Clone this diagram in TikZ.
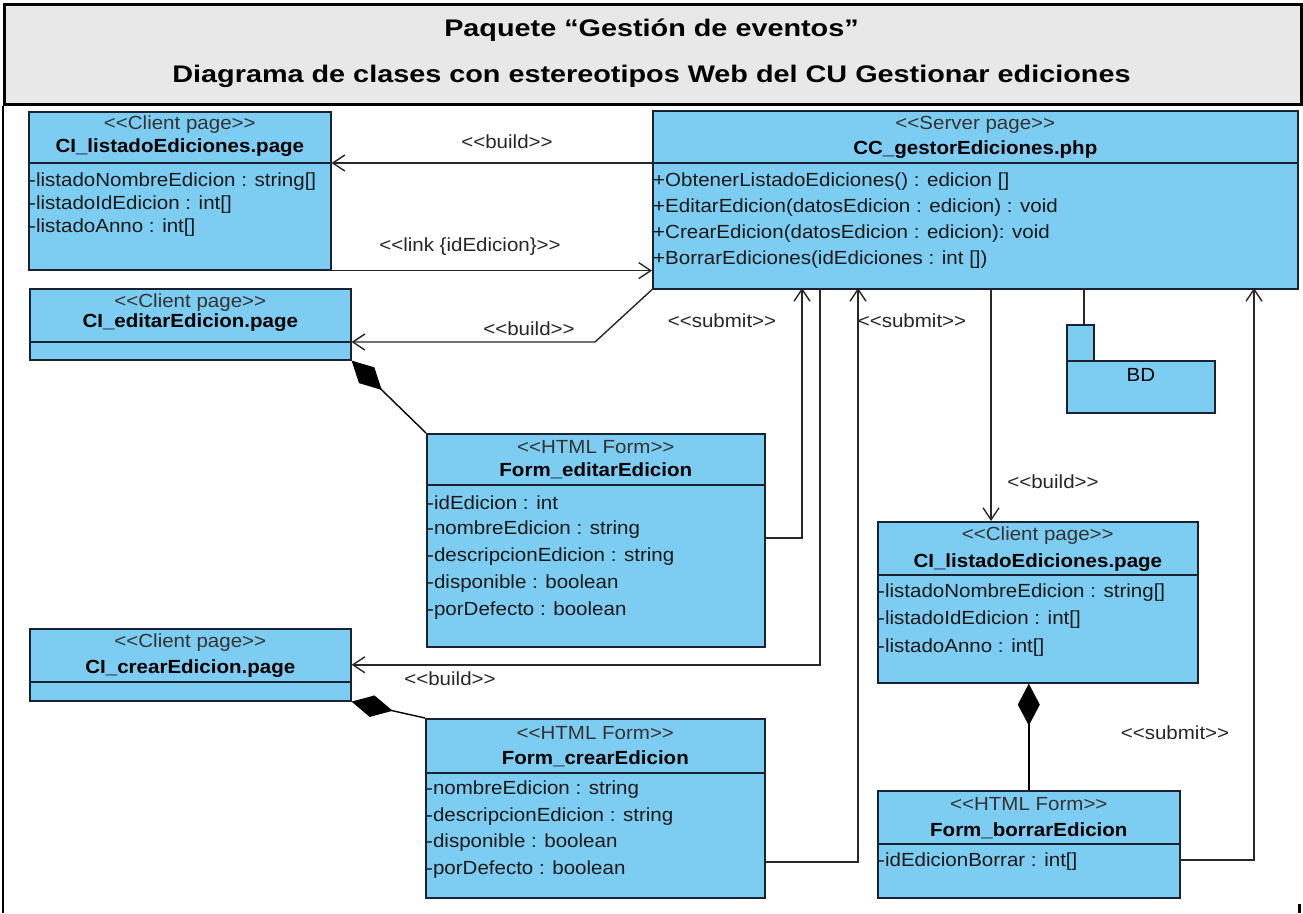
\documentclass[tikz,border=0pt]{standalone}
\usepackage{fontspec}
\setmainfont{Liberation Sans}[Ligatures=TeXOff, FakeStretch=1.08]
\newfontfamily\headfont{Liberation Sans}[Ligatures=TeXOff, FakeStretch=1.2]
\usetikzlibrary{arrows.meta}

\definecolor{classfill}{RGB}{125,205,243}
\definecolor{classline}{RGB}{25,35,50}
\definecolor{headfill}{RGB}{232,232,232}
\definecolor{wire}{RGB}{40,40,40}

\tikzset{
  classbox/.style={draw=classline, fill=classfill, line width=1.6pt, inner sep=0pt, anchor=north west},
  divider/.style={draw=classline, line width=1.6pt},
  stereo/.style={font=\fontsize{19}{22}\selectfont, inner sep=0pt, text=black!80},
  cname/.style={font=\fontsize{19}{22}\selectfont\bfseries, inner sep=0pt},
  attr/.style={font=\fontsize{19}{22}\selectfont, inner sep=0pt, anchor=west, text=black!90},
  lbl/.style={font=\fontsize{19}{22}\selectfont, inner sep=0pt, text=black!85},
  dep/.style={draw=wire, line width=1.4pt, -{Straight Barb[length=12pt,width=16pt]}},
  comp/.style={draw=black, line width=1.4pt, -{Diamond[length=42pt,width=22pt,fill=black]}},
  plainwire/.style={draw=wire, line width=1.4pt},
  title/.style={font=\headfont\fontsize{24}{28}\selectfont\bfseries, inner sep=0pt},
}

\begin{document}
\begin{tikzpicture}[x=1pt,y=-1pt]
\useasboundingbox (0,0) rectangle (1303,913);

% ---------- frame and heading ----------
\node[draw=black, line width=2.5pt, fill=headfill, minimum width=1297pt, minimum height=100pt,
      anchor=north west, inner sep=0pt] (head) at (3,3) {};
\node[title] (t1) at (651.5,30) {Paquete “Gestión de eventos”};
\node[title] (t2) at (651.5,76) {Diagrama de clases con estereotipos Web del CU Gestionar ediciones};
\coordinate (frameBL) at (3,913);
\draw[line width=2.5pt] (head.south west) -- (frameBL);
\coordinate (tickA) at (1299,904);
\coordinate (tickB) at (1299,913);
\draw[line width=3pt] (tickA) -- (tickB);

% ---------- server page ----------
\node[classbox, minimum width=645pt, minimum height=178pt] (S) at (652,110) {};
\draw[divider] ([yshift=-53pt]S.north west) -- ([yshift=-53pt]S.north east);
\node[stereo] (Sst) at ([yshift=-15pt]S.north) {<<Server page>>};
\node[cname] (Snm) at ([yshift=-40pt]S.north) {CC\_gestorEdiciones.php};
\node[attr] (Sm1) at ([xshift=1pt,yshift=-72pt]S.north west) {+ObtenerListadoEdiciones() : edicion []};
\node[attr] (Sm2) at ([xshift=1pt,yshift=-98pt]S.north west) {+EditarEdicion(datosEdicion : edicion) : void};
\node[attr] (Sm3) at ([xshift=1pt,yshift=-124pt]S.north west) {+CrearEdicion(datosEdicion : edicion): void};
\node[attr] (Sm4) at ([xshift=1pt,yshift=-150pt]S.north west) {+BorrarEdiciones(idEdiciones : int [])};

% ---------- CI_listadoEdiciones.page (top) ----------
\node[classbox, minimum width=302pt, minimum height=158pt] (L1) at (28,111) {};
\draw[divider] ([yshift=-52pt]L1.north west) -- ([yshift=-52pt]L1.north east);
\node[stereo] (L1st) at ([yshift=-14pt]L1.north) {<<Client page>>};
\node[cname] (L1nm) at ([yshift=-37pt]L1.north) {CI\_listadoEdiciones.page};
\node[attr] (L1a1) at ([xshift=1pt,yshift=-71pt]L1.north west) {-listadoNombreEdicion : string[]};
\node[attr] (L1a2) at ([xshift=1pt,yshift=-94pt]L1.north west) {-listadoIdEdicion : int[]};
\node[attr] (L1a3) at ([xshift=1pt,yshift=-117pt]L1.north west) {-listadoAnno : int[]};

% ---------- CI_editarEdicion.page ----------
\node[classbox, minimum width=321pt, minimum height=71pt] (E) at (29,288) {};
\draw[divider] ([yshift=-54pt]E.north west) -- ([yshift=-54pt]E.north east);
\node[stereo] (Est) at ([yshift=-15pt]E.north) {<<Client page>>};
\node[cname] (Enm) at ([yshift=-35pt]E.north) {CI\_editarEdicion.page};

% ---------- Form_editarEdicion ----------
\node[classbox, minimum width=338pt, minimum height=213pt] (FE) at (426,433) {};
\draw[divider] ([yshift=-52pt]FE.north west) -- ([yshift=-52pt]FE.north east);
\node[stereo] (FEst) at ([yshift=-14pt]FE.north) {<<HTML Form>>};
\node[cname] (FEnm) at ([yshift=-38pt]FE.north) {Form\_editarEdicion};
\node[attr] (FEa1) at ([xshift=1pt,yshift=-70pt]FE.north west) {-idEdicion : int};
\node[attr] (FEa2) at ([xshift=1pt,yshift=-97pt]FE.north west) {-nombreEdicion : string};
\node[attr] (FEa3) at ([xshift=1pt,yshift=-124pt]FE.north west) {-descripcionEdicion : string};
\node[attr] (FEa4) at ([xshift=1pt,yshift=-151pt]FE.north west) {-disponible : boolean};
\node[attr] (FEa5) at ([xshift=1pt,yshift=-178pt]FE.north west) {-porDefecto : boolean};

% ---------- CI_crearEdicion.page ----------
\node[classbox, minimum width=321pt, minimum height=72pt] (C) at (29,628) {};
\draw[divider] ([yshift=-54pt]C.north west) -- ([yshift=-54pt]C.north east);
\node[stereo] (Cst) at ([yshift=-15pt]C.north) {<<Client page>>};
\node[cname] (Cnm) at ([yshift=-41pt]C.north) {CI\_crearEdicion.page};

% ---------- Form_crearEdicion ----------
\node[classbox, minimum width=339pt, minimum height=179pt] (FC) at (425,718) {};
\draw[divider] ([yshift=-55pt]FC.north west) -- ([yshift=-55pt]FC.north east);
\node[stereo] (FCst) at ([yshift=-15pt]FC.north) {<<HTML Form>>};
\node[cname] (FCnm) at ([yshift=-41pt]FC.north) {Form\_crearEdicion};
\node[attr] (FCa1) at ([xshift=1pt,yshift=-72pt]FC.north west) {-nombreEdicion : string};
\node[attr] (FCa2) at ([xshift=1pt,yshift=-99pt]FC.north west) {-descripcionEdicion : string};
\node[attr] (FCa3) at ([xshift=1pt,yshift=-125pt]FC.north west) {-disponible : boolean};
\node[attr] (FCa4) at ([xshift=1pt,yshift=-152pt]FC.north west) {-porDefecto : boolean};

% ---------- CI_listadoEdiciones.page (right) ----------
\node[classbox, minimum width=320pt, minimum height=161pt] (L2) at (877,521) {};
\draw[divider] ([yshift=-54pt]L2.north west) -- ([yshift=-54pt]L2.north east);
\node[stereo] (L2st) at ([yshift=-15pt]L2.north) {<<Client page>>};
\node[cname] (L2nm) at ([yshift=-42pt]L2.north) {CI\_listadoEdiciones.page};
\node[attr] (L2a1) at ([xshift=1pt,yshift=-72pt]L2.north west) {-listadoNombreEdicion : string[]};
\node[attr] (L2a2) at ([xshift=1pt,yshift=-99pt]L2.north west) {-listadoIdEdicion : int[]};
\node[attr] (L2a3) at ([xshift=1pt,yshift=-127pt]L2.north west) {-listadoAnno : int[]};

% ---------- Form_borrarEdicion ----------
\node[classbox, minimum width=302pt, minimum height=107pt] (FB) at (877,790) {};
\draw[divider] ([yshift=-54pt]FB.north west) -- ([yshift=-54pt]FB.north east);
\node[stereo] (FBst) at ([yshift=-14pt]FB.north) {<<HTML Form>>};
\node[cname] (FBnm) at ([yshift=-41pt]FB.north) {Form\_borrarEdicion};
\node[attr] (FBa1) at ([xshift=1pt,yshift=-72pt]FB.north west) {-idEdicionBorrar : int[]};

% ---------- BD package ----------
\node[classbox, minimum width=27pt, minimum height=36pt] (BDtab) at (1066,324) {};
\node[classbox, minimum width=148pt, minimum height=52pt] (BD) at (1066,360) {};
\node[lbl, text=black] (BDnm) at ([yshift=-15pt]BD.north) {BD};

% ---------- connector ends on the server page ----------
\coordinate (sL1) at ([yshift=-53pt]S.north west);
\coordinate (k1) at (802,288);
\coordinate (k2) at (820,288);
\coordinate (k3) at (858,288);
\coordinate (k4) at (991,288);
\coordinate (k5) at (1084,288);
\coordinate (k6) at (1254,288);
\coordinate (bend1) at (595,342);
\coordinate (eD) at ([yshift=-54pt]E.north east);
\coordinate (fe1) at ([yshift=-105pt]FE.north east);
\coordinate (fc1) at ([yshift=-144pt]FC.north east);
\coordinate (fb1) at ([yshift=-70pt]FB.north east);

% ---------- dependencies ----------
\draw[dep] (sL1) -- (sL1 -| L1.east);
\draw[dep] (L1.south east) -- (L1.south east -| S.west);
\draw[dep] (S.south west) -- (bend1) -- (eD);
\draw[dep] (fe1) -| (k1);
\draw[dep] (k2) |- (C.east);
\draw[dep] (fc1) -| (k3);
\draw[dep] (k4) -- (k4 |- L2.north);
\draw[plainwire] (k5) -- (k5 |- BDtab.north);
\draw[dep] (fb1) -| (k6);

% ---------- compositions ----------
\draw[comp] (FE.north west) -- (E.south east);
\draw[comp] (FC.north west) -- (C.south east);
\draw[comp] (FB.north) -- (FB.north |- L2.south);

% ---------- stereotype labels ----------
\node[lbl] (lb1) at (507,142) {<<build>>};
\node[lbl] (lb2) at (470,247) {<<link \{idEdicion\}>>};
\node[lbl] (lb3) at (529,329) {<<build>>};
\node[lbl] (lb4) at (722,321) {<<submit>>};
\node[lbl] (lb5) at (912,321) {<<submit>>};
\node[lbl] (lb6) at (450,679) {<<build>>};
\node[lbl] (lb7) at (1053,482) {<<build>>};
\node[lbl] (lb8) at (1175,733) {<<submit>>};

\end{tikzpicture}
\end{document}
